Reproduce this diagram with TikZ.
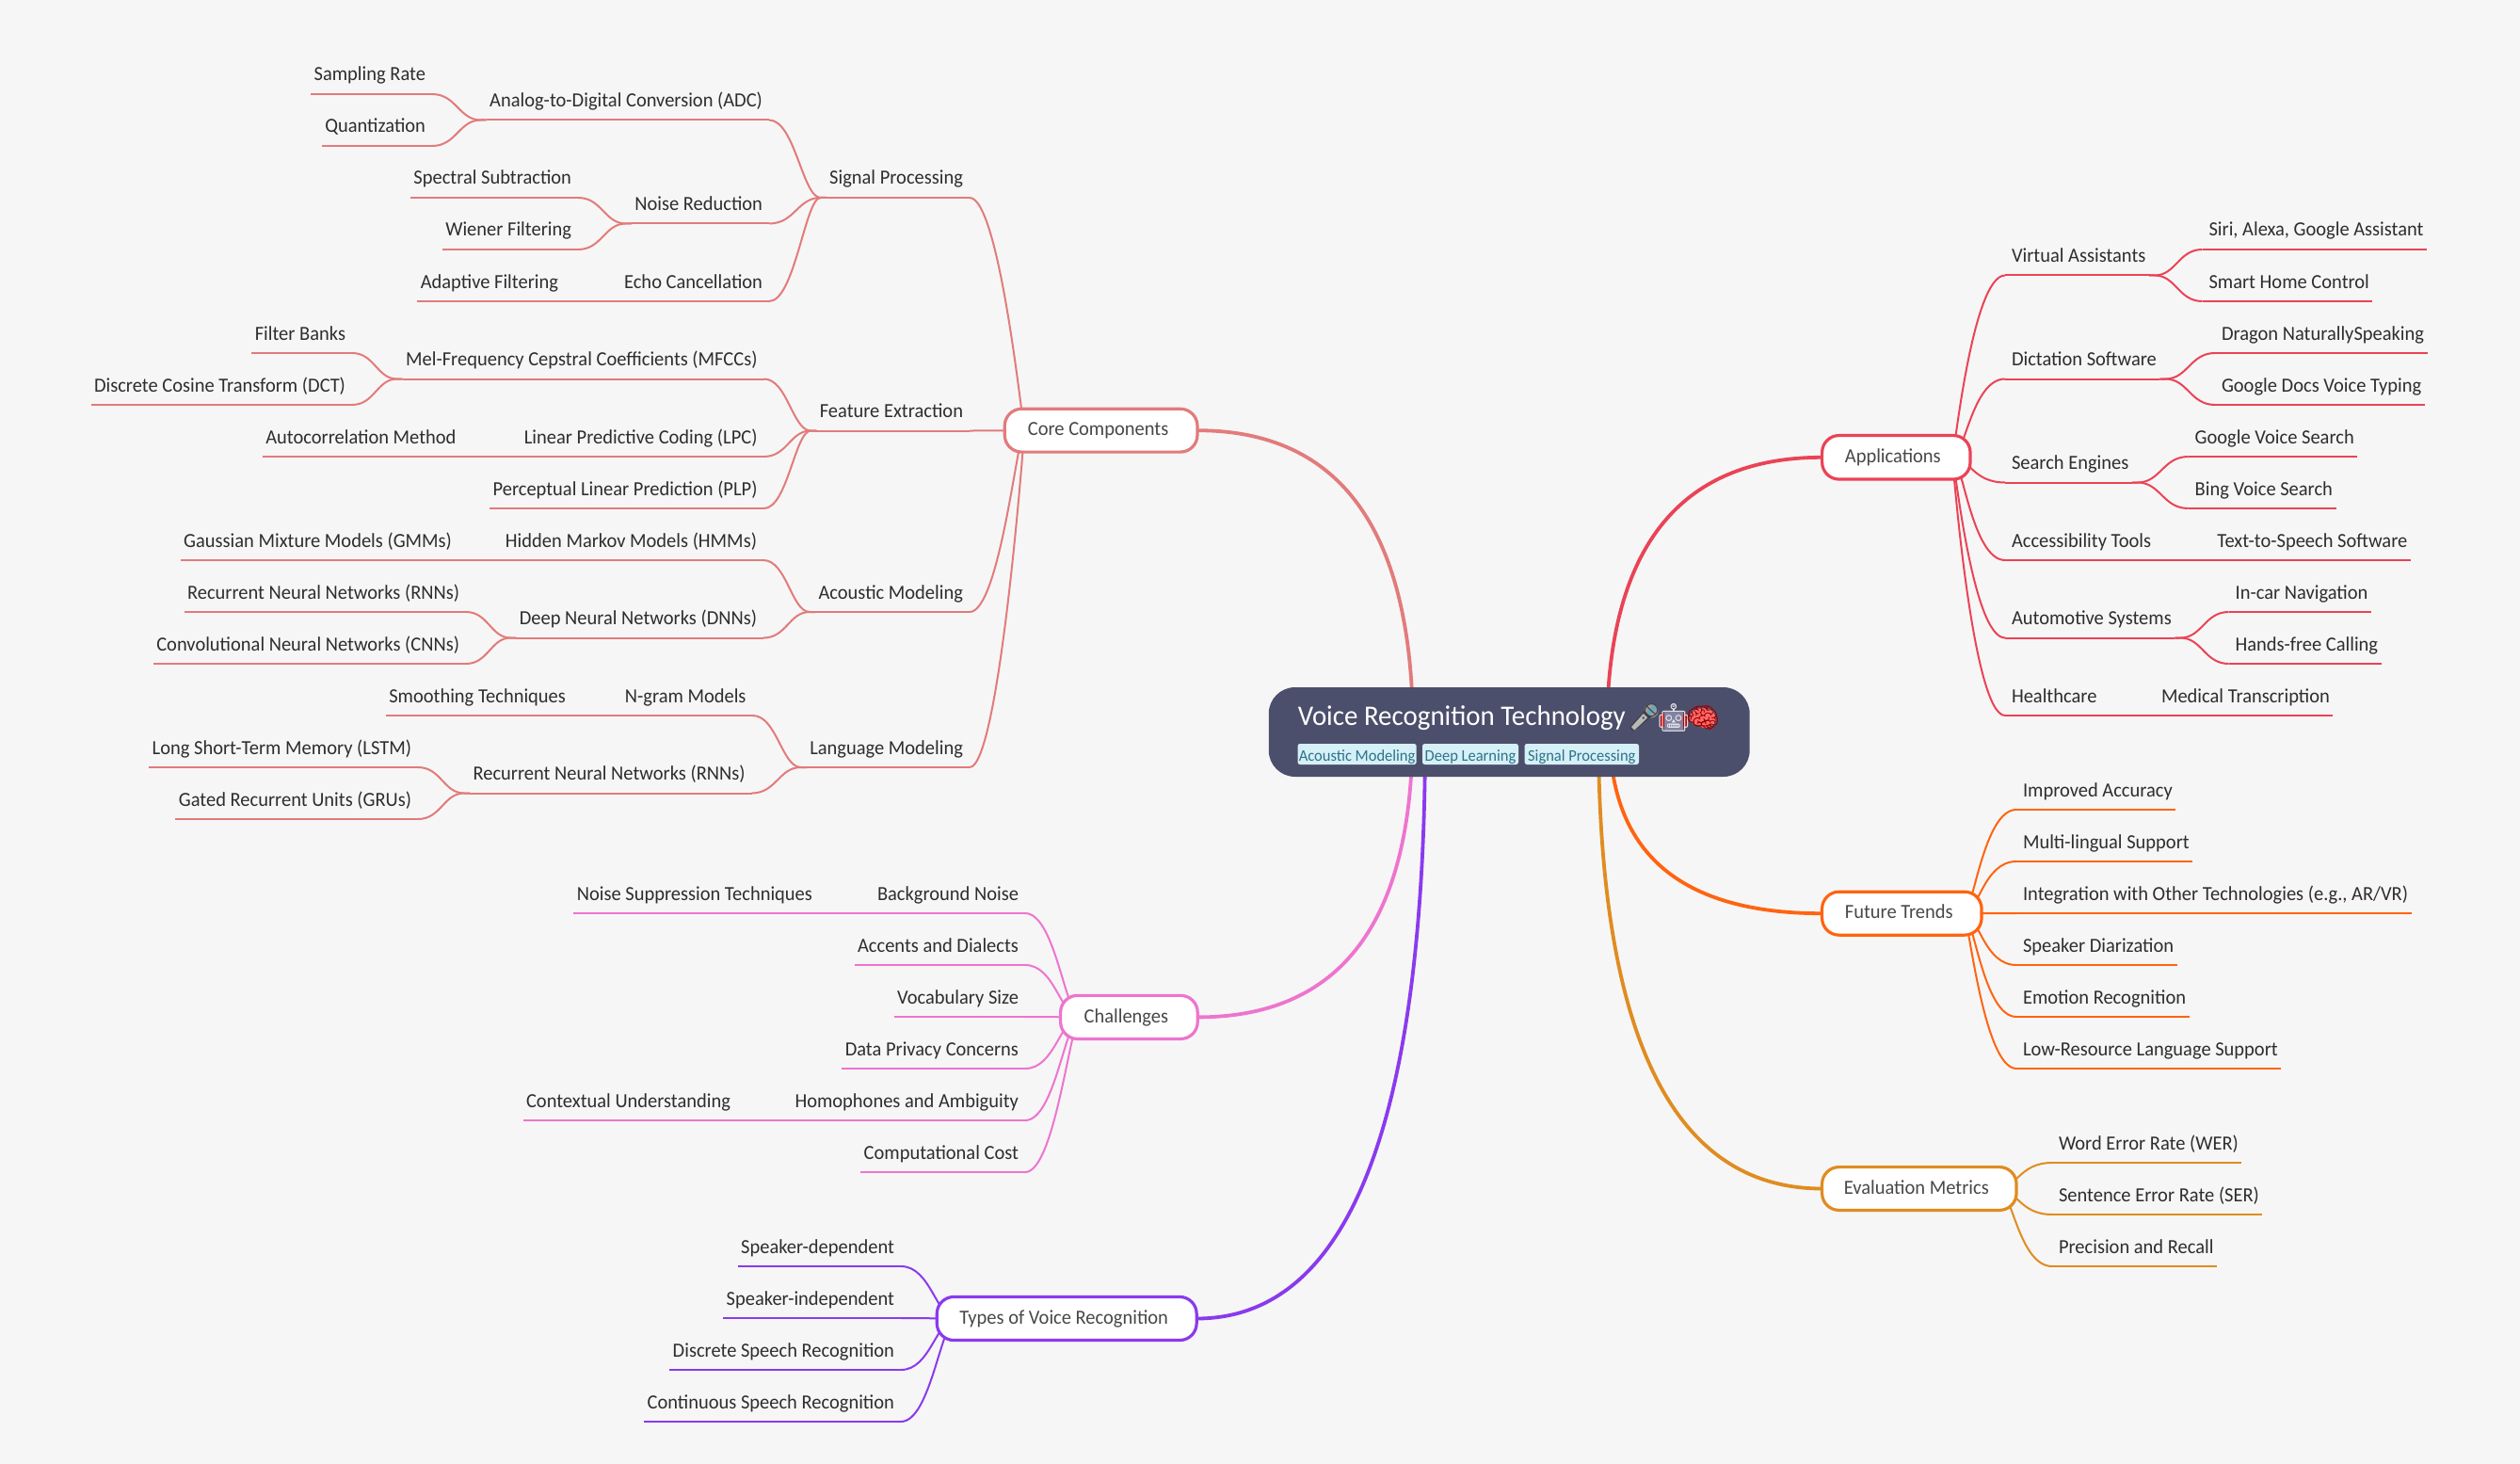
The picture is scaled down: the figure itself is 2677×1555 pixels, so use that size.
\documentclass[tikz,border=0pt]{standalone}
\usepackage{fontspec}
\setmainfont[FakeStretch=0.96]{Carlito}
\newfontfamily\emo{Noto Emoji}
\usetikzlibrary{calc}
\pgfdeclarelayer{bg}
\pgfsetlayers{bg,main}
\newdimen\pxu \pxu=0.75pt
\definecolor{pagebg}{HTML}{F6F6F6}
\definecolor{rootc}{HTML}{4C4F6B}
\definecolor{txtc}{HTML}{2E2E2E}
\definecolor{boxtxt}{HTML}{484848}
\definecolor{corec}{HTML}{E27B7B}
\definecolor{appc}{HTML}{EA4356}
\definecolor{futc}{HTML}{FF6410}
\definecolor{evac}{HTML}{E08C20}
\definecolor{chac}{HTML}{EE74CF}
\definecolor{typc}{HTML}{8A3AEE}
\definecolor{tagf}{HTML}{D6F0F8}
\definecolor{tagt}{HTML}{2F7287}
\tikzset{
  lbl/.style={inner xsep=3.5\pxu,inner ysep=0pt,outer sep=0pt,text height=16\pxu,text depth=14\pxu,text=txtc,font=\fontsize{16}{19}\selectfont},
  bx/.style={draw=#1,line width=3.2\pxu,fill=white,rounded corners=18\pxu,inner sep=0pt,outer sep=0pt,text=boxtxt,text height=28.5\pxu,text depth=17\pxu,font=\fontsize{16}{19}\selectfont},
  lnk/.style={line width=2\pxu,draw=#1,line join=round},
  mainl/.style={line width=3.8\pxu,draw=#1},
  tagn/.style={fill=tagf,text=tagt,rounded corners=2.5\pxu,inner sep=0pt,outer sep=0pt,text height=18.5\pxu,text depth=3.5\pxu,font=\fontsize{12.9}{15}\selectfont},
}
\newcommand\lnd[4]{\node[lbl,anchor=south east] (#1) at ({#2+7},#3) {#4\kern3.5\pxu};}
\newcommand\rnd[4]{\node[lbl,anchor=south west] (#1) at ({#2-7},#3) {\kern3.5\pxu#4};}
\newcommand\undl[2]{\draw[lnk=#1] (#2.south west) -- (#2.south east);}
% first level, left side
\newcommand\lone[3]{\draw[lnk=#1] let \p1=(#2.south east),\p2=([xshift=15.75pt]#3.west),\n1={abs(\y2-\y1)/10},\n2={\x1+24pt},\n3={min(\n2+\n1,\x2)} in (\p1) .. controls ({\n2},\y1) and ({\n3},\y2) .. (\p2);}
% first level, right side
\newcommand\rone[3]{\draw[lnk=#1] let \p1=(#2.south west),\p2=([xshift=-14.25pt]#3.east),\n1={abs(\y2-\y1)/10},\n2={\x1-26.25pt},\n3={max(\n2-\n1,\x2)} in (\p1) .. controls ({\n2},\y1) and ({\n3},\y2) .. (\p2);}
% deeper levels
\newcommand\ltwo[3]{\draw[lnk=#1] let \p1=(#2.south east),\p2=([xshift=-4.5pt]#3.south west),\n1={abs(\y2-\y1)/10},\n2={(\x1+\x2)/2} in (\p1) .. controls ({\n2},\y1) and ({\n2+\n1},\y2) .. (\p2) -- (#3.south west);}
\newcommand\rtwo[3]{\draw[lnk=#1] let \p1=(#2.south west),\p2=([xshift=4.5pt]#3.south east),\n1={abs(\y2-\y1)/10},\n2={(\x1+\x2)/2} in (\p1) .. controls ({\n2},\y1) and ({\n2-\n1},\y2) .. (\p2) -- (#3.south east);}
% root branches: quadratic from a point behind the root
\newcommand\mainedge[3]{\draw[mainl=#1] let \p1=(#2),\p2=(#3) in (\p1) .. controls (\x1,{\y1+0.6667*(\y2-\y1)}) and ({\x2+0.6667*(\x1-\x2)},\y2) .. (\p2);}
\begin{document}
\begin{tikzpicture}[x=0.75pt,y=-0.75pt]
\useasboundingbox (0,0) rectangle (2677,1555);
\begin{pgfonlayer}{bg}
\fill[pagebg] (0,0) rectangle (2677,1555);
\end{pgfonlayer}

% root
\node[fill=rootc,rounded corners=28\pxu,inner sep=0pt,outer sep=0pt,minimum width=383.2pt,minimum height=71.25pt] (root) at (1603.2,777.5) {};
\node[anchor=base west,inner sep=0pt,text=white,font=\fontsize{22.6}{27}\selectfont] (title) at (1378.5,770.5) {Voice Recognition Technology};
\node[tagn,minimum width={126.2*0.75pt}] (t1) at (1441.6,801) {Acoustic Modeling};
\node[tagn,minimum width={102*0.75pt}] (t2) at (1562,801) {Deep Learning};
\node[tagn,minimum width={121.4*0.75pt}] (t3) at (1680.3,801) {Signal Processing};

% emoji: colour fills under the glyphs
\fill[gray!55!white] (1733,772) -- (1737,776.5) -- (1751,761) -- (1747,756) -- cycle;
\fill[gray!75!white] (1754,755) circle (7.5);
\fill[cyan!45!gray] (1747.5,758) -- (1751,761.5) -- (1760,752) -- (1757,748.5) -- cycle;
\node[inner sep=0pt,text=black!75,font=\emo\fontsize{22}{26}\selectfont] (mic) at (1746.5,762) {🎤};
\fill[red!75!black] (1764,758) rectangle (1792,772);
\fill[blue!15!gray!85!white] (1768,756) rectangle (1788,776);
\fill[blue!15!gray!85!white] (1778,749) circle (2.2);
\node[inner sep=0pt,text=white!80!gray,font=\emo\fontsize{22}{26}\selectfont] (robot) at (1778,762.5) {🤖};
\fill[red!45!pink] (1795,762) .. controls (1795,752) and (1815,748) .. (1821,758) .. controls (1825,766) and (1820,772) .. (1815,772) .. controls (1810,775) and (1807,772) .. (1805,770) .. controls (1800,770) and (1795,768) .. (1795,762) -- cycle;
\node[inner sep=0pt,text=red!60!black,font=\emo\fontsize{22}{26}\selectfont] (brain) at (1809,762) {🧠};

% boxes
\node[bx=corec,minimum width={(207.9-3.2)*0.75pt},minimum height={(49-3.2)*0.75pt}] (core) at (1169.6,457.2) {Core Components\kern6\pxu};
\node[bx=chac,minimum width={(148.8-3.2)*0.75pt},minimum height={(49.3-3.2)*0.75pt}] (cha) at (1199.4,1080.4) {Challenges\kern6\pxu};
\node[bx=typc,minimum width={(279.1-3.2)*0.75pt},minimum height={(49.3-3.2)*0.75pt}] (typ) at (1133.2,1400.5) {Types of Voice Recognition\kern6\pxu};
\node[bx=appc,minimum width={(160.6-3.2)*0.75pt},minimum height={(49.7-3.2)*0.75pt}] (app) at (2014.3,485.8) {Applications\kern7\pxu};
\node[bx=futc,minimum width={(172.7-3.2)*0.75pt},minimum height={(49.1-3.2)*0.75pt}] (fut) at (2020.3,970.2) {Future Trends\kern6\pxu};
\node[bx=evac,minimum width={(209.7-3.2)*0.75pt},minimum height={(49-3.2)*0.75pt}] (eva) at (2038.8,1262.5) {Evaluation Metrics\kern6\pxu};

% left labels: core
\lnd{sr}{452}{100}{Sampling Rate}
\lnd{qu}{452}{155}{Quantization}
\lnd{adc}{810}{127.5}{Analog-to-Digital Conversion (ADC)}
\lnd{ss}{607}{210}{Spectral Subtraction}
\lnd{wf}{607}{265}{Wiener Filtering}
\lnd{nr}{810}{237.5}{Noise Reduction}
\lnd{af}{593}{320}{Adaptive Filtering}
\lnd{ec}{810}{320}{Echo Cancellation}
\lnd{sp}{1023}{210}{Signal Processing}
\lnd{fb}{367}{375}{Filter Banks}
\lnd{dct}{367}{430}{Discrete Cosine Transform (DCT)}
\lnd{mf}{804.5}{402.5}{Mel-Frequency Cepstral Coefficients (MFCCs)}
\lnd{ac}{484.5}{485}{Autocorrelation Method}
\lnd{lpc}{804.5}{485}{Linear Predictive Coding (LPC)}
\lnd{plp}{804.5}{540}{Perceptual Linear Prediction (PLP)}
\lnd{fe}{1023}{457.5}{Feature Extraction}
\lnd{gm}{480}{595}{Gaussian Mixture Models (GMMs)}
\lnd{hm}{804}{595}{Hidden Markov Models (HMMs)}
\lnd{ra}{488}{650}{Recurrent Neural Networks (RNNs)}
\lnd{cn}{488}{705}{Convolutional Neural Networks (CNNs)}
\lnd{dn}{804}{677.5}{Deep Neural Networks (DNNs)}
\lnd{am}{1023}{650}{Acoustic Modeling}
\lnd{st}{601}{760}{Smoothing Techniques}
\lnd{ng}{792.5}{760}{N-gram Models}
\lnd{ls}{437}{815}{Long Short-Term Memory (LSTM)}
\lnd{gr}{437}{870}{Gated Recurrent Units (GRUs)}
\lnd{rb}{791.5}{842.5}{Recurrent Neural Networks (RNNs)}
\lnd{lm}{1023}{815}{Language Modeling}
% challenges
\lnd{ns}{863}{970}{Noise Suppression Techniques}
\lnd{bn}{1082}{970}{Background Noise}
\lnd{ad}{1082}{1025}{Accents and Dialects}
\lnd{vs}{1082}{1080}{Vocabulary Size}
\lnd{dp}{1082}{1135}{Data Privacy Concerns}
\lnd{cu}{776}{1190}{Contextual Understanding}
\lnd{ha}{1082}{1190}{Homophones and Ambiguity}
\lnd{cc}{1082}{1245}{Computational Cost}
% types
\lnd{sd}{950}{1345}{Speaker-dependent}
\lnd{si}{950}{1400}{Speaker-independent}
\lnd{dr}{950}{1455}{Discrete Speech Recognition}
\lnd{cs}{950}{1510}{Continuous Speech Recognition}
% applications
\rnd{va}{2137}{292.5}{Virtual Assistants}
\rnd{sa}{2346.5}{265}{Siri, Alexa, Google Assistant}
\rnd{sh}{2346.5}{320}{Smart Home Control}
\rnd{ds}{2137}{402.5}{Dictation Software}
\rnd{dg}{2360}{375}{Dragon NaturallySpeaking}
\rnd{gd}{2360}{430}{Google Docs Voice Typing}
\rnd{se}{2137}{512.5}{Search Engines}
\rnd{gv}{2331.7}{485}{Google Voice Search}
\rnd{bv}{2331.7}{540}{Bing Voice Search}
\rnd{at}{2137}{595}{Accessibility Tools}
\rnd{tt}{2355.4}{595}{Text-to-Speech Software}
\rnd{au}{2137}{677.5}{Automotive Systems}
\rnd{ic}{2374.6}{650}{In-car Navigation}
\rnd{hf}{2374.6}{705}{Hands-free Calling}
\rnd{hc}{2137}{760}{Healthcare}
\rnd{mt}{2296}{760}{Medical Transcription}
% future
\rnd{ia}{2149}{860}{Improved Accuracy}
\rnd{ml}{2149}{915}{Multi-lingual Support}
\rnd{it}{2149}{970}{Integration with Other Technologies (e.g., AR/VR)}
\rnd{dz}{2149}{1025}{Speaker Diarization}
\rnd{em}{2149}{1080}{Emotion Recognition}
\rnd{lr}{2149}{1135}{Low-Resource Language Support}
% evaluation
\rnd{we}{2187}{1235}{Word Error Rate (WER)}
\rnd{sr2}{2187}{1290}{Sentence Error Rate (SER)}
\rnd{pr}{2187}{1345}{Precision and Recall}

\coordinate (rcore) at (1501,777.5);
\coordinate (rcha) at (1500.5,777.5);
\coordinate (rtyp) at (1514,777.5);
\coordinate (rapp) at (1707,777.5);
\coordinate (rfut) at (1710,777.5);
\coordinate (reva) at (1698,777.5);

\begin{pgfonlayer}{bg}
\mainedge{corec}{rcore}{core.east}
\mainedge{chac}{rcha}{cha.east}
\mainedge{typc}{rtyp}{typ.east}
\mainedge{appc}{rapp}{app.west}
\mainedge{futc}{rfut}{fut.west}
\mainedge{evac}{reva}{eva.west}
\foreach \nn in {sr,qu,adc,ss,wf,nr,af,ec,sp,fb,dct,mf,ac,lpc,plp,fe,gm,hm,ra,cn,dn,am,st,ng,ls,gr,rb,lm}{\undl{corec}{\nn}}
\foreach \nn in {ns,bn,ad,vs,dp,cu,ha,cc}{\undl{chac}{\nn}}
\foreach \nn in {sd,si,dr,cs}{\undl{typc}{\nn}}
\foreach \nn in {va,sa,sh,ds,dg,gd,se,gv,bv,at,tt,au,ic,hf,hc,mt}{\undl{appc}{\nn}}
\foreach \nn in {ia,ml,it,dz,em,lr}{\undl{futc}{\nn}}
\foreach \nn in {we,sr2,pr}{\undl{evac}{\nn}}
% core
\foreach \ca/\pa in {sr/adc,qu/adc,ss/nr,wf/nr,adc/sp,nr/sp,ec/sp,fb/mf,dct/mf,mf/fe,lpc/fe,plp/fe,ra/dn,cn/dn,hm/am,dn/am,ng/lm,ls/rb,gr/rb,rb/lm}{\ltwo{corec}{\ca}{\pa}}
\foreach \ca/\pa in {af/ec,ac/lpc,gm/hm,st/ng}{\draw[lnk=corec] (\ca.south east) -- (\pa.south west);}
\foreach \ca in {sp,fe,am,lm}{\lone{corec}{\ca}{core}}
\draw[lnk=chac] (ns.south east) -- (bn.south west);
\draw[lnk=chac] (cu.south east) -- (ha.south west);
\foreach \ca in {bn,ad,vs,dp,ha,cc}{\lone{chac}{\ca}{cha}}
\foreach \ca in {sd,si,dr,cs}{\lone{typc}{\ca}{typ}}
\foreach \ca/\pa in {sa/va,sh/va,dg/ds,gd/ds,gv/se,bv/se,ic/au,hf/au}{\rtwo{appc}{\ca}{\pa}}
\draw[lnk=appc] (at.south east) -- (tt.south west);
\draw[lnk=appc] (hc.south east) -- (mt.south west);
\foreach \ca in {va,ds,se,at,au,hc}{\rone{appc}{\ca}{app}}
\foreach \ca in {ia,ml,it,dz,em,lr}{\rone{futc}{\ca}{fut}}
\foreach \ca in {we,sr2,pr}{\rone{evac}{\ca}{eva}}
\end{pgfonlayer}
\end{tikzpicture}
\end{document}
